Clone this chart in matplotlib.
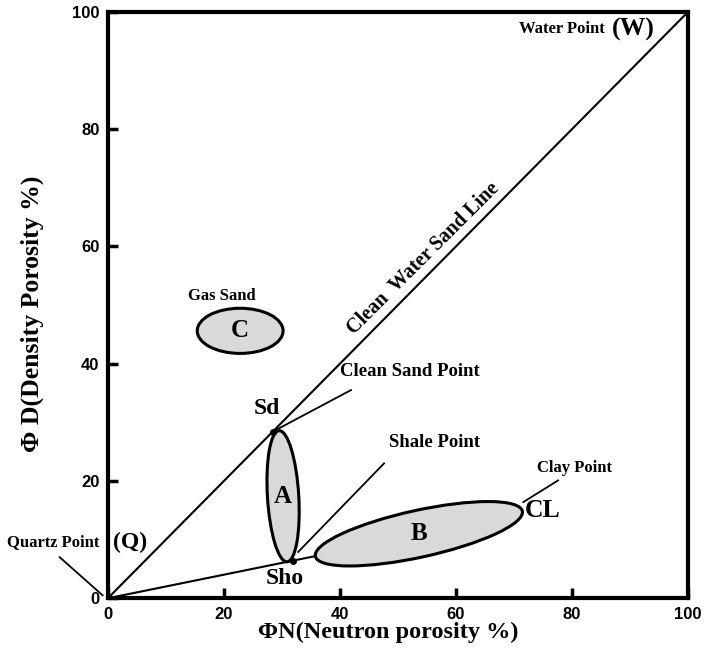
import matplotlib
matplotlib.use("Agg")
import matplotlib.pyplot as plt
from matplotlib.patches import Ellipse

# end points and marked points (neutron %, density %)
water_line = [(0, 0), (100, 100)]
shale_line = [(0, 0), (35.8, 7.2)]
sd_point = (28.4, 28.4)
sho_point = (31.9, 6.3)

# zones: name, centre, major, minor, angle
zone_names = ["A", "B", "C"]
zone_centres = [(30.2, 17.4), (53.6, 11.0), (22.8, 45.6)]
zone_major = [22.4, 36.5, 14.8]
zone_minor = [5.4, 8.0, 7.7]
zone_angles = [93.5, 12.2, 0.0]

# leader lines for point labels
leaders = {
    "Clean Sand Point": [(28.4, 28.4), (41.9, 35.5)],
    "Shale Point": [(32.8, 7.9), (47.6, 23.0)],
    "Clay Point": [(71.6, 16.4), (77.6, 20.1)],
    "Quartz Point": [(-8.3, 7.0), (-0.9, 0.5)],
}

ticks = [0, 20, 40, 60, 80, 100]

serif = "Liberation Serif"
sans = "Liberation Sans"

fig = plt.figure(figsize=(7.05, 6.56), dpi=100)
ax = fig.add_axes([0.153, 0.088, 0.823, 0.894])

ax.plot(*zip(*water_line), color="black", lw=1.5)
ax.plot(*zip(*shale_line), color="black", lw=1.5)

for name, c, w, h, a in zip(zone_names, zone_centres, zone_major, zone_minor, zone_angles):
    ax.add_patch(Ellipse(c, w, h, angle=a, facecolor="#d9d9d9",
                         edgecolor="black", lw=2.2, zorder=3))
    ax.text(c[0], c[1], name, fontsize=18, fontweight="bold", family=serif,
            ha="center", va="center", zorder=4)

for pts in leaders.values():
    ax.plot(*zip(*pts), color="black", lw=1.3, clip_on=False)

ax.plot(*sd_point, "o", color="black", ms=4, zorder=5)
ax.plot(*sho_point, "o", color="black", ms=4, zorder=5)

txt = dict(family=serif, fontweight="bold", color="black")
ax.text(40.0, 38.6, "Clean Sand Point", fontsize=13.5, va="center", **txt)
ax.text(48.4, 26.5, "Shale Point", fontsize=13.5, va="center", **txt)
ax.text(80.5, 22.2, "Clay Point", fontsize=12, ha="center", va="center", **txt)
ax.text(71.9, 15.0, "CL", fontsize=18.5, va="center", **txt)
ax.text(27.4, 32.4, "Sd", fontsize=17, ha="center", va="center", **txt)
ax.text(30.5, 3.4, "Sho", fontsize=17, ha="center", va="center", **txt)
ax.text(19.7, 51.6, "Gas Sand", fontsize=12, ha="center", va="center", **txt)
ax.text(54.3, 58.0, "Clean  Water Sand Line", fontsize=14.5, rotation=45,
        rotation_mode="anchor", ha="center", va="center", **txt)
ax.text(85.7, 97.0, "Water Point", fontsize=12, ha="right", va="center", **txt)
ax.text(86.9, 97.0, "(W)", fontsize=18.5, ha="left", va="center", **txt)
ax.text(-1.4, 9.6, "Quartz Point", fontsize=12, ha="right", va="center", **txt)
ax.text(0.9, 9.6, "(Q)", fontsize=17, ha="left", va="center", **txt)

ax.set_xlim(0, 100)
ax.set_ylim(0, 100)
ax.set_xticks(ticks)
ax.set_yticks(ticks)
ax.tick_params(direction="in", length=7, width=2.5, labelsize=12, pad=6)
for lab in ax.get_xticklabels() + ax.get_yticklabels():
    lab.set_fontweight("bold")
    lab.set_family(sans)
for sp in ax.spines.values():
    sp.set_linewidth(3)

ax.set_xlabel("\u03a6N(Neutron porosity %)", fontsize=17.5, fontweight="bold",
              family=serif)
ax.xaxis.set_label_coords(0.483, -0.04)
ax.set_ylabel("\u03a6 D(Density Porosity %)", fontsize=18.5, fontweight="bold",
              family=serif)
ax.yaxis.set_label_coords(-0.11, 0.485)

fig.savefig("out.png", dpi=100)
